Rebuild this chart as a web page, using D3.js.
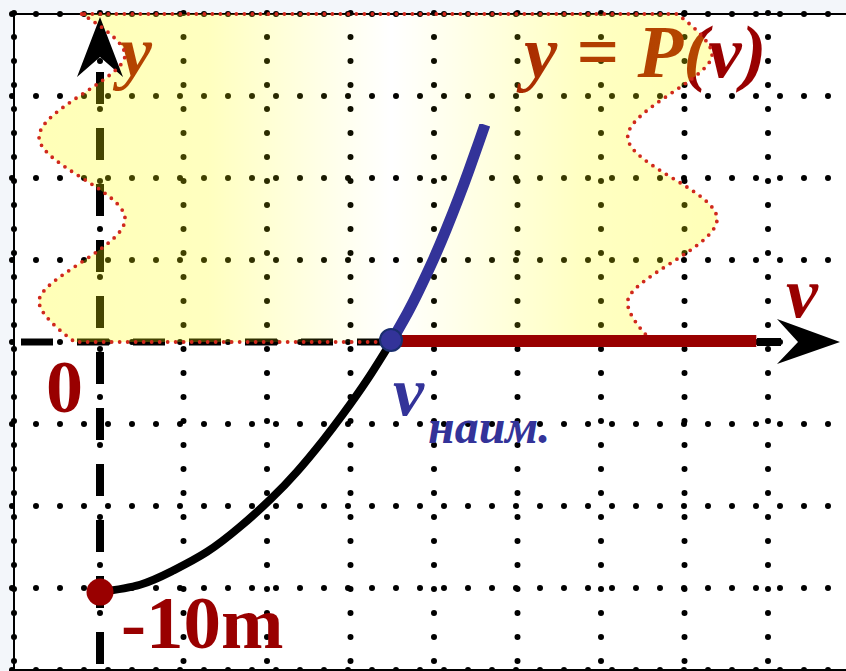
<!DOCTYPE html>
<html>
<head>
<meta charset="utf-8">
<script src="https://cdnjs.cloudflare.com/ajax/libs/d3/7.8.5/d3.min.js"></script>
<style>
  body { margin: 0; background: #f3f6fa; }
  svg { display: block; }
  text { font-family: "Liberation Serif", "DejaVu Serif", serif; font-weight: bold; }
</style>
</head>
<body>
<svg id="chart" width="846" height="671"></svg>
<script>
// grid lines, in graph units
var gridX = [0, 1, 2, 3, 4, 5, 6, 7, 8];
var gridY = [-4, -3, -2, -1, 0, 1, 2, 3, 4];

// black branch: from the start point (-10m) up to v_min
var lowerCurve = [[0, -3.05], [0.48, -2.96], [0.87, -2.79], [1.28, -2.56], [1.68, -2.25], [2.04, -1.92],
                  [2.36, -1.58], [2.67, -1.2], [2.91, -0.88], [3.2, -0.46], [3.485, 0]];
// blue branch above the v axis
var upperCurve = [[3.485, 0], [3.68, 0.35], [3.82, 0.63], [3.99, 1.0], [4.145, 1.37], [4.3, 1.77],
                  [4.42, 2.1], [4.535, 2.43], [4.61, 2.65]];
// red ray y = 0 for v >= v_min
var zeroRay = [[3.485, 0], [7.86, 0]];
var startPoint = [0, -3.05];
var minPoint = [3.485, 0];
// wavy shaded band (left and right edges)
var bandLeft = [[-0.22, 4], [0.3, 3.5], [-0.73, 2.5], [0.3, 1.5], [-0.73, 0.5], [-0.3, 0]];
var bandRight = [[6.62, 0], [6.32, 0.5], [7.39, 1.5], [6.32, 2.5], [7.33, 3.5], [6.91, 4]];

var svg = d3.select("#chart");
var x = d3.scaleLinear().domain([0, 8]).range([100, 768]);
var y = d3.scaleLinear().domain([-4, 4]).range([670, 14]);

var line = d3.line().x(function(d) { return x(d[0]); }).y(function(d) { return y(d[1]); })
  .curve(d3.curveNatural);

// white paper
svg.append("rect").attr("x", 14).attr("y", 14).attr("width", 832).attr("height", 657).attr("fill", "#fff");

// dotted grid
var grid = svg.append("g").attr("stroke", "#000").attr("stroke-width", 6)
  .attr("stroke-linecap", "round").attr("stroke-dasharray", "0 24");
grid.selectAll(".gx").data(gridX).enter().append("line")
  .attr("x1", function(d) { return x(d); }).attr("x2", function(d) { return x(d); })
  .attr("y1", 13).attr("y2", 671);
grid.append("line").attr("x1", 14).attr("x2", 14).attr("y1", 13).attr("y2", 671);
grid.selectAll(".gy").data(gridY).enter().append("line")
  .attr("y1", function(d) { return y(d); }).attr("y2", function(d) { return y(d); })
  .attr("x1", 12).attr("x2", 846);

// frame
var frame = svg.append("g").attr("stroke", "#000").attr("stroke-width", 2).attr("fill", "none");
frame.append("line").attr("x1", 14).attr("x2", 846).attr("y1", 14).attr("y2", 14);
frame.append("line").attr("x1", 14).attr("x2", 14).attr("y1", 14).attr("y2", 671);
frame.append("line").attr("x1", 14).attr("x2", 846).attr("y1", 670).attr("y2", 670);

// dashed axes
svg.append("line").attr("x1", x(0)).attr("x2", x(0)).attr("y1", 72).attr("y2", 671)
  .attr("stroke", "#000").attr("stroke-width", 8).attr("stroke-dasharray", "32 24");
svg.append("line").attr("x1", 21).attr("x2", x(minPoint[0])).attr("y1", y(0)).attr("y2", y(0))
  .attr("stroke", "#000").attr("stroke-width", 7).attr("stroke-dasharray", "32 24");

// labels under the shading
svg.append("text").attr("x", 120).attr("y", 76).attr("font-size", 72).attr("font-style", "italic")
  .attr("fill", "#990000").text("y");
svg.append("text").attr("x", 524).attr("y", 77).attr("font-size", 75).attr("font-style", "italic")
  .attr("fill", "#990000").attr("xml:space", "preserve").text("y = P(v)");

// shaded wavy band
var grad = svg.append("defs").append("linearGradient").attr("id", "band")
  .attr("gradientUnits", "userSpaceOnUse").attr("x1", 39).attr("x2", 717).attr("y1", 0).attr("y2", 0);
[[0, 0.28], [0.25, 0.25], [0.52, 0], [0.8, 0.24], [1, 0.28]].forEach(function(s) {
  grad.append("stop").attr("offset", s[0]).attr("stop-color", "#ffff00").attr("stop-opacity", s[1]);
});
var edge = d3.line().x(function(d) { return x(d[0]); }).y(function(d) { return y(d[1]); })
  .curve(d3.curveCatmullRom.alpha(0.5));
var bandPath = edge(bandLeft) + edge(bandRight).replace(/^M/, "L") + "Z";
svg.append("path").attr("d", bandPath).attr("fill", "url(#band)");

// arrow heads
svg.append("path").attr("fill", "#000")
  .attr("d", "M" + x(0) + "," + (y(4) + 3) + "l23,60l-23,-20l-23,20Z");
svg.append("line").attr("x1", 757).attr("x2", 781).attr("y1", y(0)).attr("y2", y(0))
  .attr("stroke", "#000").attr("stroke-width", 8);
svg.append("path").attr("fill", "#000")
  .attr("d", "M840," + y(0) + "l-63,-23l21,23l-21,22Z");

// band outline
svg.append("path").attr("d", bandPath).attr("fill", "none").attr("stroke", "#d0281c")
  .attr("stroke-width", 3.8).attr("stroke-linecap", "round").attr("stroke-dasharray", "0 8");

// branches of y = P(v)
svg.append("path").datum(zeroRay).attr("d", line).attr("fill", "none")
  .attr("stroke", "#990000").attr("stroke-width", 12).attr("transform", "translate(0,-1)");
svg.append("path").datum(lowerCurve).attr("d", line).attr("fill", "none")
  .attr("stroke", "#000").attr("stroke-width", 8);
svg.append("path").datum(upperCurve).attr("d", line).attr("fill", "none")
  .attr("stroke", "#333399").attr("stroke-width", 11);

svg.append("circle").attr("cx", x(startPoint[0])).attr("cy", y(startPoint[1])).attr("r", 13.5)
  .attr("fill", "#990000");
svg.append("circle").attr("cx", x(minPoint[0])).attr("cy", y(minPoint[1]) - 2).attr("r", 11)
  .attr("fill", "#333399").attr("stroke", "#1a2e6e").attr("stroke-width", 2);

// other labels
svg.append("text").attr("x", 46).attr("y", 412).attr("font-size", 74).attr("fill", "#990000").text("0");
svg.append("text").attr("x", 121).attr("y", 648).attr("font-size", 75).attr("fill", "#990000").text("-10m");
svg.append("text").attr("x", 786).attr("y", 317).attr("font-size", 72).attr("font-style", "italic")
  .attr("fill", "#990000").text("v");
var vmin = svg.append("text").attr("x", 393).attr("y", 415).attr("font-style", "italic").attr("fill", "#333399");
vmin.append("tspan").attr("font-size", 70).text("v");
vmin.append("tspan").attr("x", 428).attr("y", 443).attr("font-size", 48).text("наим.");
</script>
</body>
</html>
